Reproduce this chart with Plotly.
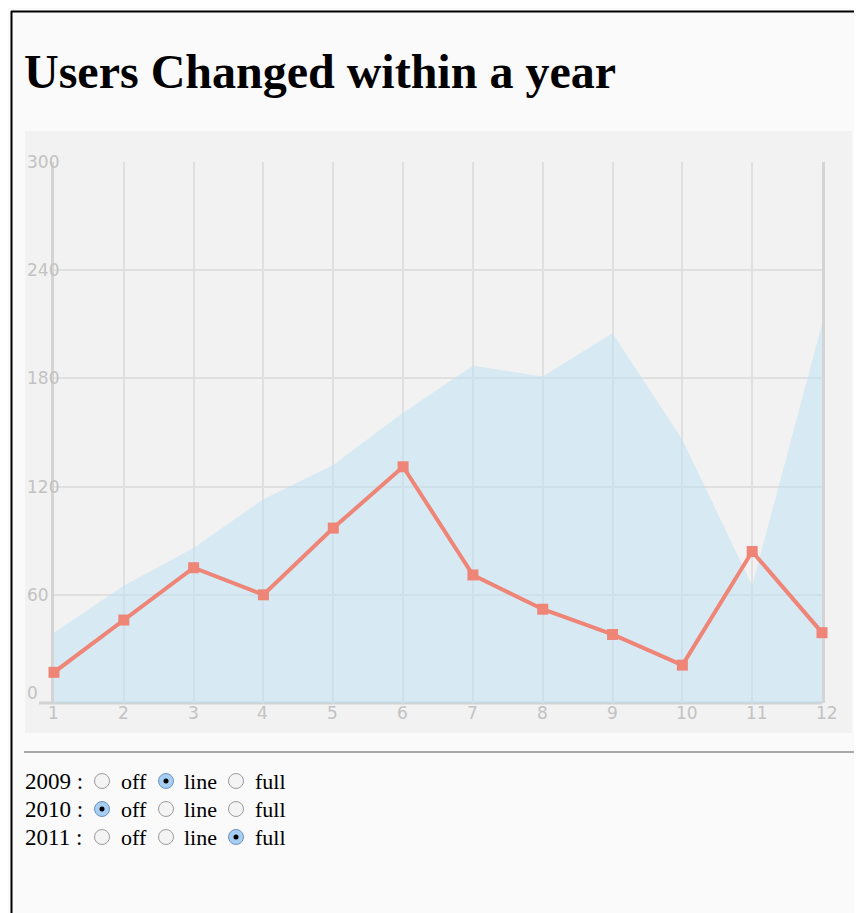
import plotly.graph_objects as go

W, H = 862, 913
OFF = 8  # the page body puts the figure 8px in from the top-left corner

# data
months = [1, 2, 3, 4, 5, 6, 7, 8, 9, 10, 11, 12]
users_2009 = [17, 46, 75, 60, 97, 131, 71, 52, 38, 21, 84, 39]
users_2011 = [39, 65, 86, 113, 132, 161, 187, 181, 205, 146, 65, 210]
y_ticks = [0, 60, 120, 180, 240, 300]

years = ["2009", "2010", "2011"]
modes = ["off", "line", "full"]
selected = ["line", "off", "full"]


def px(x):
    return (x - OFF) / W


def py(y):
    return 1 - (y - OFF) / H


fig = go.Figure()

fig.add_trace(go.Scatter(
    x=months, y=users_2011, mode="lines", fill="tozeroy",
    line=dict(width=0, color="rgba(188,226,246,0)"),
    fillcolor="rgba(188,226,246,0.5)", hoverinfo="skip", showlegend=False,
))
fig.add_trace(go.Scatter(
    x=months, y=users_2009, mode="lines+markers", cliponaxis=False,
    line=dict(color="#ee8577", width=4),
    marker=dict(symbol="square", size=11, color="#ee8577"),
    showlegend=False,
))

shapes = []
annotations = []

# page frame and chart background
shapes.append(dict(type="rect", xref="paper", yref="paper", layer="below",
                   x0=px(25), x1=px(852), y0=py(733), y1=py(131),
                   fillcolor="#f2f2f2", line=dict(width=0)))
shapes.append(dict(type="line", xref="paper", yref="paper",
                   x0=px(11.5), x1=px(11.5), y0=py(11), y1=0,
                   line=dict(color="black", width=2)))
shapes.append(dict(type="line", xref="paper", yref="paper",
                   x0=px(11), x1=1, y0=py(11.5), y1=py(11.5),
                   line=dict(color="black", width=2)))
# x axis line runs a bit past the y axis
shapes.append(dict(type="line", xref="paper", yref="paper", layer="below",
                   x0=px(39), x1=px(822), y0=py(703), y1=py(703),
                   line=dict(color="#d2d2d2", width=3)))
# hr
shapes.append(dict(type="line", xref="paper", yref="paper",
                   x0=px(24), x1=1, y0=py(752), y1=py(752),
                   line=dict(color="#a8a8a8", width=2)))

tick_font = dict(family="DejaVu Sans", size=17, color="#c2c2c2")
for t in y_ticks:
    annotations.append(dict(
        text=str(t), xref="paper", yref="y", x=px(25), y=t,
        xanchor="left", yanchor="middle", showarrow=False,
        yshift=10 if t == 0 else 0, font=tick_font,
    ))
for m in months:
    annotations.append(dict(
        text=str(m), xref="x", yref="paper", x=m, y=py(713),
        xanchor="left", yanchor="middle", showarrow=False,
        xshift=-8, font=tick_font,
    ))

annotations.append(dict(
    text="<b>Users Changed within a year</b>", xref="paper", yref="paper",
    x=px(22), y=py(71), xanchor="left", yanchor="middle", showarrow=False,
    font=dict(family="Liberation Serif", size=48, color="black"),
))

# radio rows
circle_x = [102, 166, 236]
word_x = [119, 182, 253]
for i, year in enumerate(years):
    yc = 781 + 28 * i
    annotations.append(dict(
        text=year + " :", xref="paper", yref="paper", x=px(23), y=py(yc),
        xanchor="left", yanchor="middle", showarrow=False,
        font=dict(family="Liberation Serif", size=23, color="black"),
    ))
    for j, m in enumerate(modes):
        cx = circle_x[j]
        on = selected[i] == m
        shapes.append(dict(type="circle", xref="paper", yref="paper",
                           x0=px(cx - 7.5), x1=px(cx + 7.5),
                           y0=py(yc + 7.5), y1=py(yc - 7.5),
                           fillcolor="#a6cdf2" if on else "#f4f4f4",
                           line=dict(color="#6d93bf" if on else "#9c9c9c", width=1)))
        if on:
            shapes.append(dict(type="circle", xref="paper", yref="paper",
                               x0=px(cx - 2.5), x1=px(cx + 2.5),
                               y0=py(yc + 2.5), y1=py(yc - 2.5),
                               fillcolor="black", line=dict(width=0)))
        annotations.append(dict(
            text=m, xref="paper", yref="paper", x=px(word_x[j]), y=py(yc),
            xanchor="left", yanchor="middle", showarrow=False,
            font=dict(family="Liberation Serif", size=22, color="black"),
        ))

fig.update_layout(
    width=W, height=H, autosize=False,
    margin=dict(l=0, r=0, t=0, b=0),
    paper_bgcolor="#fafafa", plot_bgcolor="rgba(0,0,0,0)",
    xaxis=dict(domain=[px(54), px(822)], range=[1, 12], tickvals=months,
               showticklabels=False, showgrid=True, gridcolor="#e0e0e0",
               gridwidth=2, zeroline=False, showline=False, fixedrange=True),
    yaxis=dict(domain=[py(703), py(162)], range=[0, 300], tickvals=y_ticks,
               showticklabels=False, showgrid=True, gridcolor="#e0e0e0",
               gridwidth=2, zeroline=False, showline=True, linecolor="#d4d4d4",
               linewidth=3, mirror=True, layer="below traces", fixedrange=True),
    shapes=shapes,
    annotations=annotations,
    hovermode=False,
)

fig.write_html("out.html", config={"displayModeBar": False})
